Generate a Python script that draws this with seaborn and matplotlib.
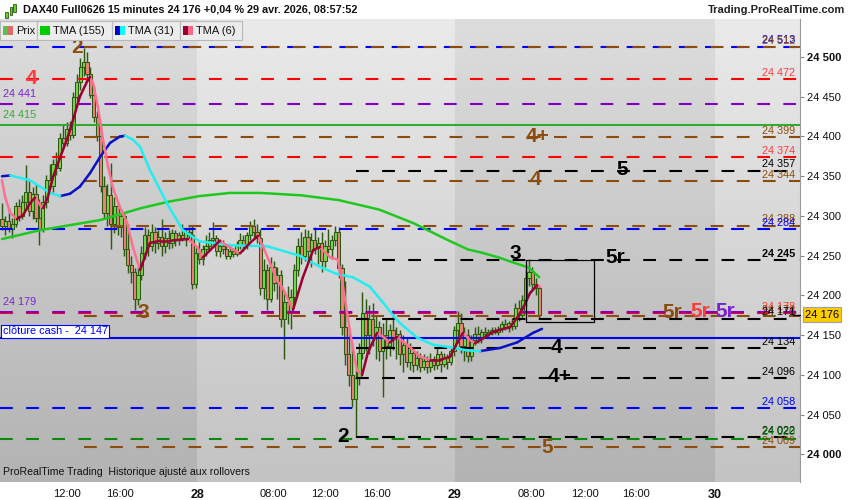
import numpy as np
import pandas as pd
import seaborn as sns
import matplotlib.pyplot as plt
from matplotlib.patches import Rectangle

# 15 minute bars, DAX40 Full0626 (bar index 0 = first visible bar)
opens = [24296, 24288, 24294, 24284, 24290, 24312, 24300, 24318, 24330, 24306,
         24328, 24298, 24284, 24318, 24345, 24338, 24365, 24360, 24398, 24392,
         24410, 24402, 24450, 24468, 24488, 24494, 24478, 24452, 24424, 24400,
         24338, 24304, 24326, 24290, 24312, 24286, 24300, 24258, 24238, 24230,
         24196, 24226, 24254, 24276, 24262, 24280, 24266, 24274, 24262, 24272,
         24266, 24278, 24270, 24276, 24272, 24280, 24276, 24214, 24254, 24246,
         24258, 24262, 24270, 24272, 24256, 24262, 24258, 24250, 24256, 24252,
         24264, 24270, 24262, 24276, 24288, 24280, 24272, 24210, 24232, 24196,
         24236, 24216, 24226, 24170, 24192, 24178, 24198, 24232, 24262, 24250,
         24274, 24256, 24270, 24260, 24266, 24244, 24262, 24258, 24270, 24280,
         24234, 24160, 24126, 24100, 24070, 24096, 24128, 24178, 24150, 24170,
         24146, 24160, 24130, 24150, 24136, 24156, 24146, 24152, 24126, 24138,
         24116, 24128, 24112, 24122, 24110, 24118, 24110, 24120, 24112, 24126,
         24114, 24122, 24116, 24130, 24156, 24166, 24136, 24150, 24124, 24144,
         24152, 24146, 24154, 24152, 24154, 24156, 24154, 24158, 24164, 24160,
         24166, 24162, 24184, 24176, 24194, 24222, 24230, 24214, 24210]
highs = [24316, 24300, 24310, 24298, 24318, 24322, 24326, 24364, 24345, 24336,
         24340, 24322, 24326, 24352, 24366, 24372, 24380, 24404, 24414, 24418,
         24420, 24456, 24478, 24499, 24511, 24506, 24488, 24462, 24432, 24412,
         24350, 24340, 24367, 24324, 24318, 24308, 24304, 24290, 24250, 24234,
         24236, 24262, 24286, 24284, 24290, 24286, 24282, 24296, 24280, 24282,
         24284, 24282, 24280, 24290, 24284, 24286, 24288, 24262, 24268, 24264,
         24276, 24280, 24292, 24276, 24268, 24270, 24264, 24262, 24260, 24268,
         24278, 24276, 24280, 24294, 24296, 24290, 24284, 24246, 24240, 24248,
         24244, 24236, 24232, 24206, 24212, 24208, 24240, 24272, 24280, 24284,
         24282, 24278, 24286, 24274, 24280, 24270, 24284, 24276, 24288, 24286,
         24240, 24218, 24158, 24140, 24106, 24140, 24204, 24196, 24188, 24190,
         24176, 24168, 24166, 24170, 24164, 24182, 24160, 24156, 24150, 24146,
         24140, 24134, 24130, 24128, 24126, 24124, 24128, 24124, 24134, 24130,
         24128, 24126, 24134, 24162, 24180, 24178, 24160, 24158, 24150, 24160,
         24162, 24158, 24160, 24158, 24160, 24160, 24162, 24168, 24170, 24168,
         24172, 24190, 24194, 24200, 24232, 24246, 24236, 24222, 24212]
lows = [24282, 24276, 24280, 24272, 24286, 24294, 24296, 24310, 24300, 24296,
        24292, 24263, 24280, 24310, 24334, 24330, 24352, 24356, 24384, 24388,
        24396, 24398, 24440, 24458, 24476, 24470, 24448, 24418, 24394, 24330,
        24296, 24288, 24258, 24278, 24276, 24274, 24250, 24228, 24216, 24182,
        24188, 24220, 24246, 24250, 24256, 24254, 24258, 24250, 24254, 24258,
        24260, 24262, 24264, 24268, 24262, 24270, 24208, 24210, 24240, 24238,
        24250, 24256, 24264, 24250, 24248, 24252, 24246, 24246, 24248, 24250,
        24258, 24256, 24258, 24270, 24272, 24266, 24200, 24196, 24182, 24192,
        24206, 24196, 24160, 24120, 24164, 24158, 24190, 24224, 24240, 24244,
        24246, 24236, 24252, 24240, 24230, 24236, 24254, 24246, 24262, 24222,
        24150, 24112, 24086, 24060, 24022, 24088, 24120, 24130, 24126, 24136,
        24120, 24118, 24072, 24120, 24124, 24132, 24120, 24112, 24104, 24110,
        24106, 24104, 24106, 24104, 24106, 24102, 24104, 24106, 24108, 24104,
        24110, 24108, 24112, 24124, 24140, 24128, 24118, 24116, 24118, 24138,
        24140, 24140, 24148, 24148, 24150, 24152, 24150, 24154, 24156, 24154,
        24156, 24158, 24168, 24170, 24186, 24212, 24206, 24200, 24172]
closes = [24288, 24294, 24284, 24290, 24312, 24300, 24318, 24330, 24306, 24328,
          24298, 24284, 24318, 24345, 24338, 24365, 24360, 24398, 24392, 24410,
          24402, 24450, 24468, 24488, 24494, 24478, 24452, 24424, 24400, 24338,
          24304, 24326, 24290, 24312, 24286, 24300, 24258, 24238, 24230, 24196,
          24226, 24254, 24276, 24262, 24280, 24266, 24274, 24262, 24272, 24266,
          24278, 24270, 24276, 24272, 24280, 24276, 24214, 24254, 24246, 24258,
          24262, 24270, 24272, 24256, 24262, 24258, 24250, 24256, 24252, 24264,
          24270, 24262, 24276, 24288, 24280, 24272, 24210, 24232, 24196, 24236,
          24216, 24226, 24170, 24192, 24178, 24198, 24232, 24262, 24250, 24274,
          24256, 24270, 24260, 24266, 24244, 24262, 24258, 24270, 24280, 24234,
          24160, 24126, 24100, 24070, 24096, 24128, 24178, 24150, 24170, 24146,
          24160, 24130, 24150, 24136, 24156, 24146, 24152, 24126, 24138, 24116,
          24128, 24112, 24122, 24110, 24118, 24110, 24120, 24112, 24126, 24114,
          24122, 24116, 24130, 24156, 24166, 24136, 24150, 24124, 24144, 24152,
          24146, 24154, 24152, 24154, 24156, 24154, 24158, 24164, 24160, 24166,
          24162, 24184, 24176, 24194, 24222, 24230, 24214, 24210, 24176]

# triangular moving averages (bar index, price)
tma155_bar = [0, 11, 29, 41, 49, 58, 67, 76, 88, 99, 111, 121, 131, 137, 141, 146, 150, 155, 158]
tma155_val = [24271, 24282, 24295, 24310, 24318, 24325, 24329, 24329, 24326, 24320,
              24308, 24291, 24270, 24258, 24254, 24248, 24242, 24235, 24223]

tma31_bar = [0, 2.4, 5.3, 8.2, 11.2, 14.1, 17.1, 20, 22.9, 25.9, 28.8, 31.8, 34.7,
             36.2, 38.5, 40.6, 43.5, 48.5, 53.2, 58.2, 67.9, 77.9, 87.6, 93.5, 98.5,
             103.2, 108.2, 112.1, 115, 117.1, 122.1, 126.8, 131.8, 136.8, 140.6,
             146.5, 151.5, 156.2, 158.8]
tma31_val = [24350, 24351, 24348, 24345, 24337, 24329, 24325, 24328, 24337, 24354,
             24374, 24392, 24400, 24401, 24396, 24387, 24358, 24316, 24282, 24268,
             24263, 24262, 24250, 24236, 24227, 24223, 24211, 24191, 24175, 24165,
             24147, 24138, 24135, 24131, 24130, 24134, 24141, 24153, 24158]

tma6_bar = [0, 0.9, 2.4, 4.4, 6.2, 8.2, 9.7, 11.2, 12.1, 13.5, 15, 17.1, 19.1, 20.9,
            22.9, 25, 25.9, 26.8, 28.2, 29.7, 31.2, 32.6, 34.7, 36.8, 38.5, 40.6,
            43.5, 46.5, 49.4, 52.4, 54.7, 57.4, 59.1, 61.2, 64.1, 67.1, 70, 72.9,
            75.3, 76.8, 78.8, 80.9, 82.6, 85.6, 88.5, 91.5, 93.5, 96.5, 98.8, 100.3,
            102.4, 104.4, 105.9, 107.6, 110.3, 112.1, 114.1, 116.2, 120, 122.9,
            125.9, 128.8, 131.8, 133.8, 135.6, 137.6, 139.1, 141.5, 144.4, 146.5,
            149.4, 151.5, 153.2, 155.3, 157.4, 158.2]
tma6_val = [24345, 24324, 24304, 24296, 24301, 24316, 24323, 24314, 24310, 24324,
            24349, 24374, 24396, 24421, 24450, 24469, 24475, 24467, 24437, 24396,
            24362, 24336, 24311, 24291, 24261, 24232, 24266, 24269, 24269, 24270,
            24271, 24261, 24248, 24257, 24269, 24260, 24253, 24266, 24275, 24261,
            24241, 24219, 24209, 24182, 24223, 24257, 24261, 24248, 24245, 24211,
            24153, 24106, 24100, 24128, 24153, 24148, 24141, 24148, 24135, 24123,
            24119, 24119, 24123, 24140, 24153, 24144, 24140, 24146, 24154, 24157,
            24160, 24172, 24184, 24203, 24213, 24211]

# horizontal levels
level_prices = [24513, 24512, 24472, 24441, 24415, 24399, 24374, 24357, 24344,
                24288, 24284, 24245, 24178, 24179, 24174, 24171, 24147, 24134,
                24096, 24058, 24022, 24020, 24009]
level_kinds = ['blue', 'brown', 'red', 'purple', 'green', 'brown', 'red', 'black', 'brown',
               'brown', 'blue', 'black', 'red', 'purple', 'brown', 'black', 'cash', 'black',
               'black', 'blue', 'black', 'dkgreen', 'brown']

# big wave labels: text, bar, price, kind
wave_text = ['2', '4', '4+', '4', '5', '3', '3', '5r', '5r', '5r', '5r', '4', '4+', '2', '5']
wave_bar = [22.1, 8.6, 157.6, 156.8, 182.4, 41.5, 150.9, 180.3, 197, 205.3, 212.6,
            163.2, 164.1, 100.3, 160.3]
wave_price = [24512, 24473, 24400, 24346, 24358, 24179, 24253, 24248, 24179, 24180,
              24180, 24134, 24098, 24023, 24009]
wave_kind = ['brown', 'red', 'brown', 'brown', 'black', 'brown', 'black', 'black',
             'brown', 'red', 'purple', 'black', 'black', 'black', 'brown']

y_ticks = [24000, 24050, 24100, 24150, 24200, 24250, 24300, 24350, 24400, 24450, 24500]
x_tick_bars = [19.1, 34.7, 57.4, 79.7, 95, 110.3, 133.2, 155.6, 171.5, 186.5, 209.7]
x_tick_labels = ['12:00', '16:00', '28', '08:00', '12:00', '16:00', '29',
                 '08:00', '12:00', '16:00', '30']
day_edges = [57.4, 133.2, 209.7]
last_price = 24176
swing_high_bar = 24
swing_low_bar = 104

COLORS = {
    'blue': '#0000ff', 'brown': '#8b4c0c', 'red': '#ff0000', 'purple': '#8000c8',
    'green': '#33aa33', 'black': '#000000', 'cash': '#0000ff', 'dkgreen': '#0a8a0a',
}
TEXT_COLORS = dict(COLORS, red='#ff3b3b', purple='#7b22d0')

sns.set_style('white')
plt.rcParams['font.family'] = ['Liberation Sans', 'DejaVu Sans']
plt.rcParams['lines.scale_dashes'] = False

W, H = 850, 500
fig = plt.figure(figsize=(W / 100, H / 100), dpi=100)
ax = fig.add_axes([0, 18 / H, 800 / W, 463 / H])

x_lo, x_hi = -0.59, 234.7
y_lo, y_hi = 23965.4, 24547.8
ax.set_xlim(x_lo, x_hi)
ax.set_ylim(y_lo, y_hi)

# background: vertical gradient, alternating day bands
grad = np.linspace(0, 1, 256)[:, None]


def band(x0, x1, top, bottom):
    top = np.array(top) / 255
    bottom = np.array(bottom) / 255
    img = top[None, None, :] * (1 - grad[..., None]) + bottom[None, None, :] * grad[..., None]
    ax.imshow(img, extent=(x0, x1, y_lo, y_hi), origin='upper', aspect='auto',
              interpolation='bilinear', zorder=0)


edges = [x_lo] + day_edges + [x_hi]
for k in range(len(edges) - 1):
    if k % 2 == 0:
        band(edges[k], edges[k + 1], (221, 221, 221), (179, 179, 179))
    else:
        band(edges[k], edges[k + 1], (234, 234, 234), (195, 195, 195))

# candles
bars = pd.DataFrame({'open': opens, 'high': highs, 'low': lows, 'close': closes})
bars['bar'] = np.arange(len(bars))
rising = bars['close'] >= bars['open']
wick = '#2d5a10'
ax.vlines(bars['bar'], bars['low'], bars['high'], color=wick, lw=1.05, zorder=2)
ax.bar(bars['bar'], (bars['close'] - bars['open']).abs().clip(lower=1.2),
       bottom=np.minimum(bars['open'], bars['close']), width=0.9,
       color=np.where(rising, '#74d84c', '#e8837a'), edgecolor=wick, linewidth=0.75, zorder=2.5)

# levels
for price, kind in zip(level_prices, level_kinds):
    start = x_lo
    if kind == 'brown':
        start = swing_high_bar
    elif kind == 'black':
        start = swing_low_bar
    if kind in ('green', 'cash'):
        ax.plot([start, x_hi], [price, price], color=COLORS[kind], lw=1.5, zorder=3)
    else:
        ax.plot([start, x_hi], [price, price], color=COLORS[kind], lw=1.5,
                dashes=(9.2, 9.6), zorder=3)
    label = f'{price:,}'.replace(',', ' ')
    if kind in ('purple', 'green'):
        ax.text(0.4, price + 6, label, color=TEXT_COLORS[kind], fontsize=7.8,
                va='bottom', ha='left', zorder=5)
    elif kind == 'cash':
        ax.text(0.2, price + 1.5, f'clôture cash -  {label}', color='#0000ff', fontsize=7.8,
                va='bottom', ha='left', zorder=6,
                bbox=dict(boxstyle='square,pad=0.12', fc='white', ec='#0000ff', lw=0.8))
    else:
        ax.text(233.3, price + 1.5, label, color=TEXT_COLORS[kind], fontsize=7.8,
                va='bottom', ha='right', zorder=5,
                fontweight='bold' if price == 24245 else 'normal')

# moving averages
green_df = pd.DataFrame({'bar': tma155_bar, 'price': tma155_val})
sns.lineplot(data=green_df, x='bar', y='price', color='#1ec81e', lw=1.8, ax=ax, zorder=4,
             sort=False)


def two_tone(bars_x, vals, up_color, down_color):
    rows = []
    for k in range(len(bars_x) - 1):
        trend = 'up' if vals[k + 1] >= vals[k] else 'down'
        rows.append((k, bars_x[k], vals[k], trend))
        rows.append((k, bars_x[k + 1], vals[k + 1], trend))
    seg = pd.DataFrame(rows, columns=['seg', 'bar', 'price', 'trend'])
    sns.lineplot(data=seg, x='bar', y='price', hue='trend', units='seg', estimator=None,
                 palette={'up': up_color, 'down': down_color}, legend=False, lw=1.8,
                 sort=False, ax=ax, zorder=4, solid_capstyle='round')


two_tone(tma31_bar, tma31_val, '#0a10c8', '#22eef2')
two_tone(tma6_bar, tma6_val, '#990033', '#ff6f93')

# box around the last swing
ax.add_patch(Rectangle((154.1, 24167), 20, 24245 - 24167, fill=False, ec='black', lw=0.9,
                       zorder=5))

# wave labels
for txt, bx, py, kind in zip(wave_text, wave_bar, wave_price, wave_kind):
    ax.text(bx, py, txt, color=TEXT_COLORS[kind], fontsize=15, fontweight='bold',
            ha='center', va='center', zorder=9)

ax.text(0.4, 23972, 'ProRealTime Trading  Historique ajusté aux rollovers', fontsize=7.6,
        color='#111111', ha='left', va='bottom', zorder=6)

# axes styling
ax.set_xlabel('')
ax.set_ylabel('')
for side in ('top', 'left', 'bottom'):
    ax.spines[side].set_visible(False)
ax.spines['right'].set_color('#9a9a9a')
ax.spines['right'].set_linewidth(0.8)
ax.yaxis.tick_right()
ax.set_yticks(y_ticks)
ax.set_yticklabels([f'{v:,}'.replace(',', ' ') for v in y_ticks])
ax.tick_params(axis='y', length=3, width=0.8, color='#888888', pad=2, labelsize=8,
               labelcolor='#111111')
for lbl, v in zip(ax.get_yticklabels(), y_ticks):
    if v % 500 == 0:
        lbl.set_fontweight('bold')
ax.set_xticks(x_tick_bars)
ax.set_xticklabels(x_tick_labels)
ax.tick_params(axis='x', length=3, width=0.8, color='#888888', pad=2, labelsize=8,
               labelcolor='#111111')
for lbl in ax.get_xticklabels():
    if ':' not in lbl.get_text():
        lbl.set_fontweight('bold')
        lbl.set_fontsize(9)

# last price tag on the price axis
ax.plot([x_hi - 2, x_hi], [last_price, last_price], color='black', lw=1, zorder=6,
        clip_on=False)
fig.text(805 / W, 1 - 314.5 / H, '24 176', fontsize=8, color='black', ha='left',
         va='center', zorder=7,
         bbox=dict(boxstyle='square,pad=0.2', fc='#ffcc00', ec='#a0a0a0', lw=0.8))

# header
fig.text(23 / W, 1 - 10 / H, 'DAX40 Full0626 15 minutes 24 176 +0,04 % 29 avr. 2026, 08:57:52',
         fontsize=7.8, fontweight='bold', ha='left', va='center', color='#111111')
fig.text(845 / W, 1 - 10 / H, 'Trading.ProRealTime.com', fontsize=8, fontweight='bold',
         ha='right', va='center', color='#222222')
for x0, y0, h in [(5, 12, 6), (9.5, 7, 8), (13.5, 4, 8)]:
    fig.add_artist(Rectangle((x0 / W, 1 - (y0 + h) / H), 2.6 / W, h / H,
                             transform=fig.transFigure, fc='#66cc33', ec='#2d5a10', lw=0.6))

# legend strip
legend_boxes = [(0, 37, 'Prix', ('#5cbf4a', '#e06a6a')),
                (37, 112, 'TMA (155)', ('#00cc00', '#00cc00')),
                (112, 180, 'TMA (31)', ('#0000cc', '#00ffff')),
                (180, 242, 'TMA (6)', ('#990033', '#ff6688'))]
for x0, x1, name, (c1, c2) in legend_boxes:
    fig.add_artist(Rectangle((x0 / W, 1 - 40 / H), (x1 - x0) / W, 18.5 / H,
                             transform=fig.transFigure, fc='#ececec', ec='#b8b8b8', lw=0.8,
                             zorder=8))
    fig.add_artist(Rectangle(((x0 + 3) / W, 1 - 35 / H), 5 / W, 9 / H,
                             transform=fig.transFigure, fc=c1, ec='none', zorder=9))
    fig.add_artist(Rectangle(((x0 + 8) / W, 1 - 35 / H), 5 / W, 9 / H,
                             transform=fig.transFigure, fc=c2, ec='none', zorder=9))
    fig.text((x0 + 16) / W, 1 - 30.5 / H, name, fontsize=8, ha='left', va='center',
             color='#111111', zorder=10)

fig.savefig('out.png', dpi=100)
